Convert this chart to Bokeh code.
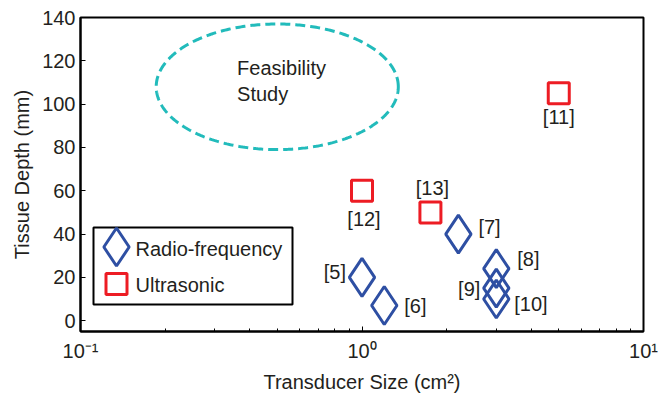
import numpy as np
from bokeh.plotting import figure
from bokeh.models import ColumnDataSource, FixedTicker, Range1d, LinearScale
from bokeh.core.properties import value
from bokeh.embed import file_html
from bokeh.resources import INLINE

# ---- data ----
rf_size = [1.0, 1.2, 2.2, 3.0, 3.0, 3.0]
rf_depth = [20, 7, 40, 24, 15, 10]
rf_labels = ["[5]", "[6]", "[7]", "[8]", "[9]", "[10]"]

us_size = [5.0, 1.0, 1.75]
us_depth = [105, 60, 50]
us_labels = ["[11]", "[12]", "[13]"]

feas_center_size = 0.5
feas_center_depth = 108
feas_half_decades = 0.43
feas_half_depth = 29
feas_text = ["Feasibility", "Study"]

legend_labels = ["Radio-frequency", "Ultrasonic"]

x_ticks = [0.1, 1, 10]
x_tick_labels = ["10\u207b\u00b9", "10\u2070", "10\u00b9"]
y_ticks = [0, 20, 40, 60, 80, 100, 120, 140]

# ---- styles / layout ----
FONT_NAME = "Liberation Sans"
FONT = value(FONT_NAME)
TXT = "#231F20"
BLUE = "#2E4FA3"
RED = "#ED1C24"
CYAN = "#22BBBB"
FS = "20px"

FW, FH = 563, 314

rf_xoff = [-16, 20, 20, 21, -16, 18]
rf_yoff = [-5, 0, -7, -10, 1, 5]
rf_align = ["right", "left", "left", "left", "right", "left"]
us_xoff = [0, 2, 2]
us_yoff = [24, 28, -24]
us_align = ["center", "center", "center"]

p = figure(x_axis_type="log", frame_width=FW, frame_height=FH,
           min_border_left=80, min_border_right=27, min_border_top=17, min_border_bottom=60,
           x_range=Range1d(0.1, 10), y_range=Range1d(-5, 140),
           output_backend="svg", toolbar_location=None)
# pixel-space ranges for the hand-built legend box
p.extra_x_ranges = {"px": Range1d(0, FW)}
p.extra_y_ranges = {"py": Range1d(FH, 0)}
p.extra_x_scales = {"px": LinearScale()}
p.extra_y_scales = {"py": LinearScale()}

p.grid.visible = False
p.outline_line_color = "black"
p.outline_line_width = 2
p.background_fill_color = "white"
p.border_fill_color = "white"

minor = [m * d for d in (0.1, 1) for m in range(2, 10)]
p.xaxis.ticker = FixedTicker(ticks=x_ticks, minor_ticks=minor)
p.xaxis.major_label_overrides = {t: l for t, l in zip(x_ticks, x_tick_labels)}
p.yaxis.ticker = FixedTicker(ticks=y_ticks)

for ax in (p.xaxis[0], p.yaxis[0]):
    ax.axis_line_color = "black"
    ax.axis_line_width = 2
    ax.major_tick_in = 5
    ax.major_tick_out = 0
    ax.minor_tick_in = 3
    ax.minor_tick_out = 0
    ax.major_tick_line_color = "black"
    ax.minor_tick_line_color = "black"
    ax.major_label_text_font = FONT_NAME
    ax.major_label_text_font_size = FS
    ax.major_label_text_color = TXT
    ax.axis_label_text_font = FONT_NAME
    ax.axis_label_text_font_size = FS
    ax.axis_label_text_font_style = "normal"
    ax.axis_label_text_color = TXT
p.yaxis.minor_tick_line_color = None
p.xaxis.major_label_standoff = 8
p.yaxis.major_label_standoff = 5
p.xaxis.axis_label = "Transducer Size (cm\u00b2)"
p.yaxis.axis_label = "Tissue Depth (mm)"
p.xaxis.axis_label_standoff = 6
p.yaxis.axis_label_standoff = 6

# feasibility ellipse (drawn in log-x space)
t = np.linspace(0, 2 * np.pi, 400)
ex = 10 ** (np.log10(feas_center_size) + feas_half_decades * np.cos(t))
ey = feas_center_depth + feas_half_depth * np.sin(t)
p.line(ex, ey, line_color=CYAN, line_width=3, line_dash="10 5")
p.text(x=[0.36, 0.36], y=[116.5, 104.5], text=feas_text,
       text_font=FONT, text_font_size=FS, text_color=TXT,
       text_baseline="middle", text_align="left")

rf_src = ColumnDataSource(dict(x=rf_size, y=rf_depth, lab=rf_labels,
                               xo=rf_xoff, yo=rf_yoff, al=rf_align))
us_src = ColumnDataSource(dict(x=us_size, y=us_depth, lab=us_labels,
                               xo=us_xoff, yo=us_yoff, al=us_align))

DIAMOND_SIZE = 38
SQUARE_SIZE = 21
p.scatter("x", "y", source=rf_src, marker="diamond", size=DIAMOND_SIZE,
          fill_color=None, line_color=BLUE, line_width=3)
p.scatter("x", "y", source=us_src, marker="square", size=SQUARE_SIZE,
          fill_color=None, line_color=RED, line_width=3)

for src in (rf_src, us_src):
    p.text("x", "y", text="lab", source=src, x_offset="xo", y_offset="yo",
           text_align="al", text_baseline="middle",
           text_font=FONT, text_font_size=FS, text_color=TXT)

# ---- legend (frame pixel space, y measured from top) ----
LG_L, LG_R, LG_T, LG_B = 13, 212, 210, 287
LG_MX = 36
LG_ROWS = [229.5, 266.5]
LG_TX = 55
LG_TY = [231.5, 267.5]
p.quad(left=[LG_L], right=[LG_R], top=[LG_T], bottom=[LG_B],
       fill_color="white", line_color="black", line_width=2,
       x_range_name="px", y_range_name="py")
p.scatter([LG_MX], [LG_ROWS[0]], marker="diamond", size=DIAMOND_SIZE,
          fill_color=None, line_color=BLUE, line_width=3,
          x_range_name="px", y_range_name="py")
p.scatter([LG_MX], [LG_ROWS[1]], marker="square", size=SQUARE_SIZE,
          fill_color=None, line_color=RED, line_width=3,
          x_range_name="px", y_range_name="py")
p.text(x=[LG_TX, LG_TX], y=LG_TY, text=legend_labels,
       text_font=FONT, text_font_size=FS, text_color=TXT,
       text_baseline="middle", text_align="left",
       x_range_name="px", y_range_name="py")

open("out.html", "w").write(file_html(p, INLINE))
